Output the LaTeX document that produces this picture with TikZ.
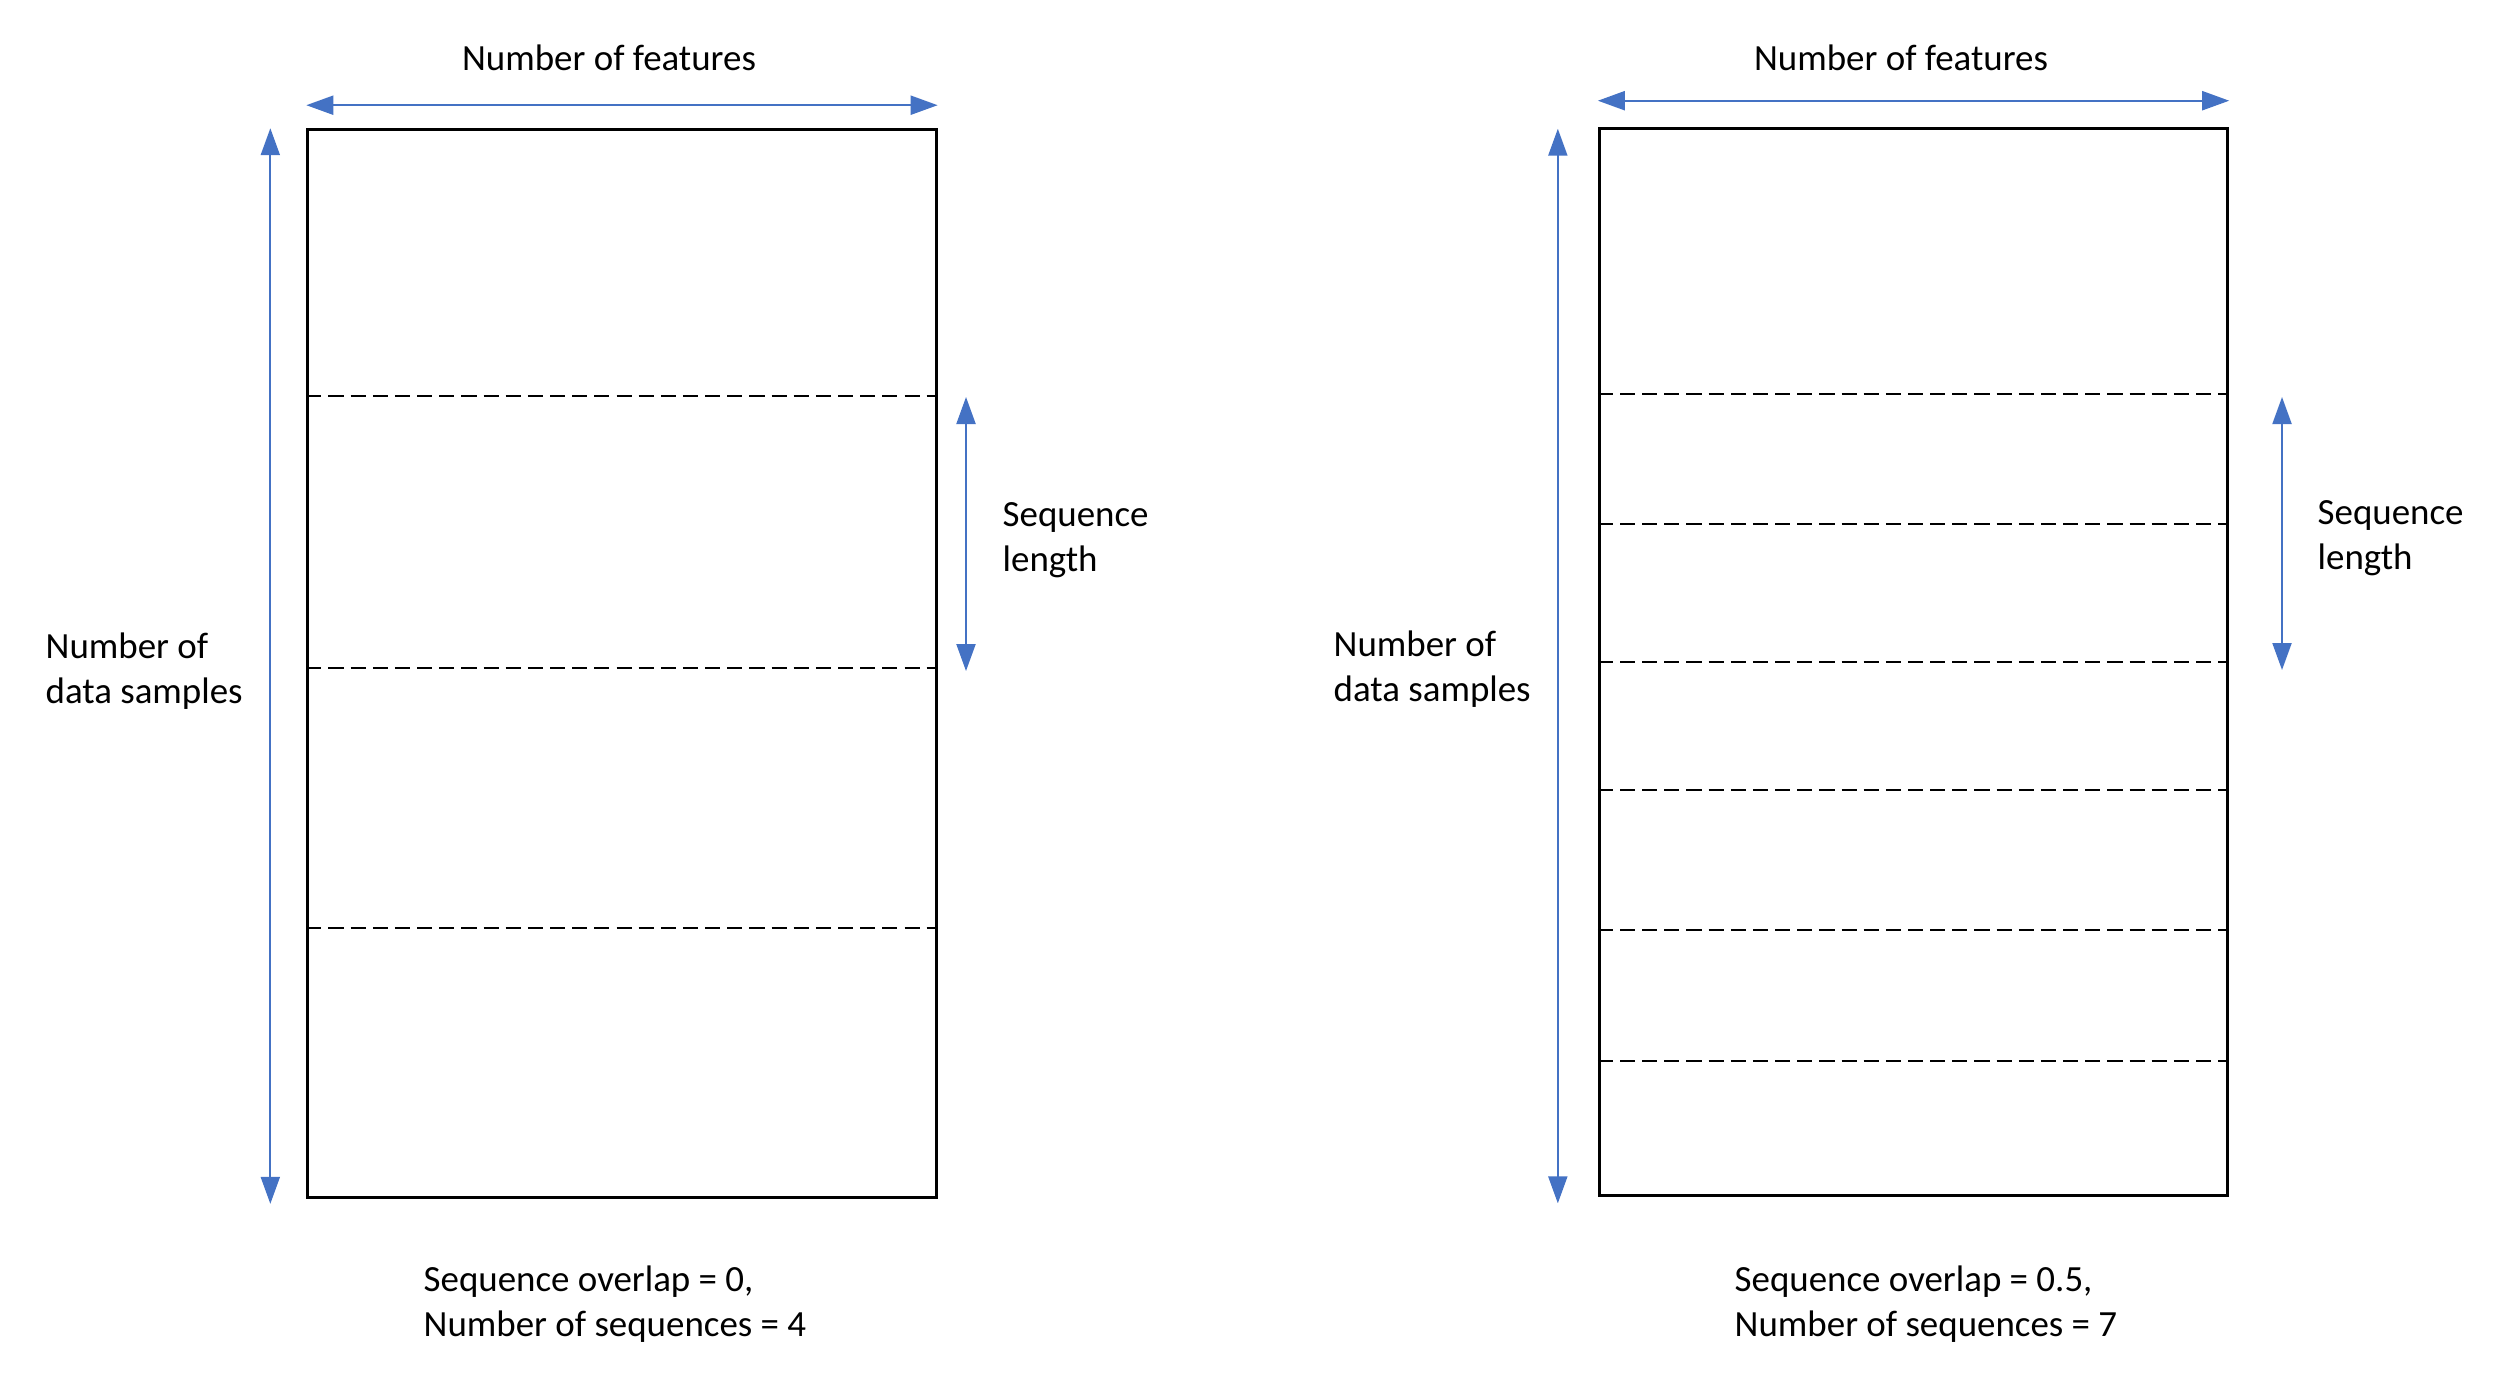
\documentclass[tikz,border=0pt]{standalone}
\usepackage{fontspec}
\setmainfont{Carlito}
\usetikzlibrary{arrows.meta,positioning,calc}
\definecolor{dimblue}{HTML}{4472C4}

\begin{document}
\begin{tikzpicture}[x=0.01cm,y=-0.01cm,
   frame/.style={draw,line width=0.85pt,minimum width=6.28cm,minimum height=10.67cm,inner sep=0pt},
   cut/.style={dash pattern=on 4.3pt off 2pt,line width=0.6pt},
   dim/.style={color=dimblue,line width=0.6pt,{Triangle[length=0.27cm,width=0.19cm]}-{Triangle[length=0.27cm,width=0.19cm]}},
   lbl/.style={font=\fontsize{10.5}{12.8}\selectfont,align=left,inner sep=0pt}]
   \useasboundingbox (0,0) rectangle (2513,1384);
   % the two data tables
   \node[frame] (left) at (622,663.5) {};
   \node[frame] (right) at (1913.5,662) {};
   \foreach \y in {396,668,928}
     \draw[cut] (left.west |- 0,\y) -- (left.east |- 0,\y);
   \foreach \y in {394,524,662,790,930,1061}
     \draw[cut] (right.west |- 0,\y) -- (right.east |- 0,\y);
   % arrow ends
   \coordinate (lf1) at ($(left.north west)+(0,-23)$);
   \coordinate (lf2) at ($(left.north east)+(0,-23)$);
   \coordinate (ls1) at ($(left.north west)+(-36,0)$);
   \coordinate (ls2) at ($(left.south west)+(-36,5)$);
   \coordinate (ll1) at (966,397);
   \coordinate (ll2) at (966,671);
   \coordinate (rf1) at ($(right.north west)+(0,-26)$);
   \coordinate (rf2) at ($(right.north east)+(0,-26)$);
   \coordinate (rs1) at ($(right.north west)+(-40,2)$);
   \coordinate (rs2) at ($(right.south west)+(-40,6)$);
   \coordinate (rl1) at (2282,397);
   \coordinate (rl2) at (2282,670);
   \path[dim]
    (lf1) edge (lf2)
    (ls1) edge (ls2)
    (ll1) edge (ll2)
    (rf1) edge (rf2)
    (rs1) edge (rs2)
    (rl1) edge (rl2);
   % labels
   \node[lbl] (lfeat) at (609,58) {Number of features};
   \node[lbl,anchor=west] (lsamp) at (45,671) {Number of\\data samples};
   \node[lbl,anchor=west] (lseq) at (1002,540) {Sequence\\length};
   \node[lbl,anchor=west] (lnote) at (423,1304) {Sequence overlap = 0,\\Number of sequences = 4};
   \node[lbl] (rfeat) at (1901,58) {Number of features};
   \node[lbl,anchor=west] (rsamp) at (1333,669) {Number of\\data samples};
   \node[lbl,anchor=west] (rseq) at (2317,538) {Sequence\\length};
   \node[lbl,anchor=west] (rnote) at (1734,1304) {Sequence overlap = 0.5,\\Number of sequences = 7};
\end{tikzpicture}
\end{document}
